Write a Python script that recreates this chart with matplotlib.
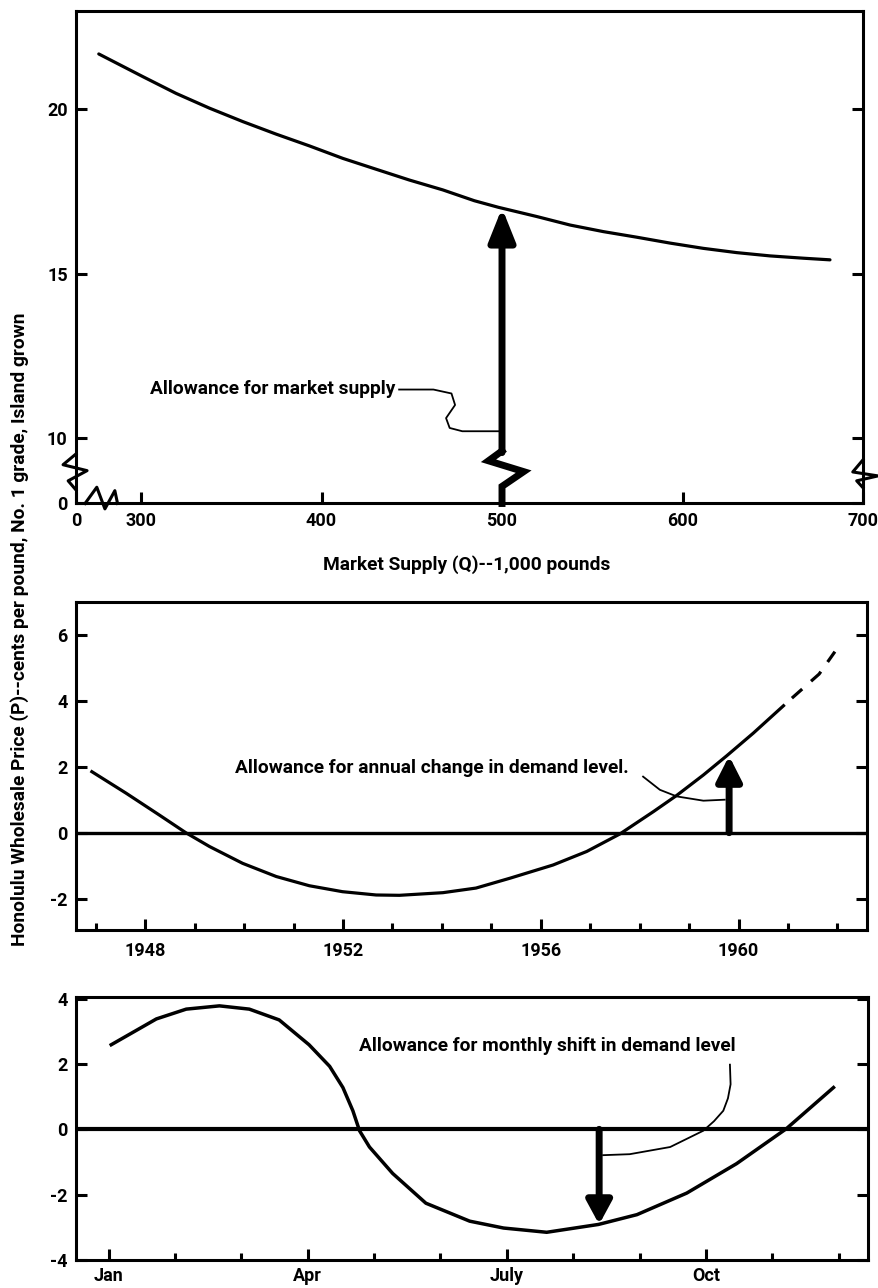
import numpy as np
import matplotlib.pyplot as plt
import matplotlib.transforms as mtransforms

plt.rcParams['font.family'] = ['Roboto', 'DejaVu Sans']
plt.rcParams['font.weight'] = 'bold'

# panel 1: price vs market supply
supply_q = [276.6, 301.0, 319.4, 337.9, 356.4, 374.8, 393.3, 411.8, 430.2, 448.7, 467.2, 484.7,
            498.0, 519.2, 537.7, 556.1, 574.6, 593.1, 611.5, 630.0, 648.5, 666.9, 681.7]
supply_p = [21.69, 21.00, 20.49, 20.04, 19.63, 19.25, 18.89, 18.51, 18.18, 17.85, 17.55, 17.22,
            17.02, 16.74, 16.48, 16.28, 16.11, 15.93, 15.77, 15.64, 15.54, 15.47, 15.42]
supply_xticks = [264, 300, 400, 500, 600, 700]
supply_xlabels = ['0', '300', '400', '500', '600', '700']
supply_yticks = [8, 10, 15, 20]
supply_ylabels = ['0', '10', '15', '20']

# panel 2: annual shift
annual_years = [1946.92, 1947.61, 1948.28, 1948.82, 1949.30, 1949.97, 1950.65, 1951.32, 1951.99,
                1952.67, 1953.14, 1954.02, 1954.69, 1955.38, 1956.25, 1956.93, 1957.60, 1958.28,
                1958.75, 1959.29, 1959.76, 1960.30, 1960.91]
annual_shift = [1.85, 1.20, 0.54, 0.0, -0.42, -0.93, -1.33, -1.61, -1.79,
                -1.89, -1.90, -1.82, -1.68, -1.38, -0.98, -0.57, -0.04, 0.64,
                1.13, 1.75, 2.33, 3.02, 3.85]
proj_years = [1961.08, 1961.63, 1961.95]
proj_shift = [4.08, 4.81, 5.49]
year_labels = [1948, 1952, 1956, 1960]
year_minor = list(range(1947, 1963))

# panel 3: monthly shift (0 = Jan)
months = [0.04, 0.72, 1.17, 1.67, 2.12, 2.57, 3.02, 3.33, 3.53, 3.68, 3.78, 3.93, 4.28, 4.78,
          5.44, 5.95, 6.60, 7.38, 7.96, 8.71, 9.46, 10.21, 10.92]
monthly_shift = [2.59, 3.38, 3.68, 3.78, 3.68, 3.35, 2.59, 1.93, 1.28, 0.57, -0.04, -0.54, -1.35, -2.26,
                 -2.81, -3.02, -3.15, -2.91, -2.61, -1.95, -1.05, 0.02, 1.28]
month_major = [0, 3, 6, 9]
month_names = ['Jan', 'Apr', 'July', 'Oct']

FS = 13.8   # annotation / axis label size
TFS = 13    # tick label size


def style(ax):
    for s in ax.spines.values():
        s.set_linewidth(2.2)
    ax.tick_params(direction='in', length=8, width=2.2, labelsize=TFS,
                   right=True, labelright=False, pad=6)
    ax.tick_params(which='minor', direction='in', length=5, width=2.2, right=False)


def up_arrow(ax, x, y0, y1, lw, hl, hw):
    ax.annotate('', xy=(x, y1), xytext=(x, y0),
                arrowprops=dict(arrowstyle=f'-|>,head_length={hl},head_width={hw}', lw=lw,
                                color='black', mutation_scale=20, shrinkA=0, shrinkB=0))


fig = plt.figure(figsize=(8.79, 12.88), dpi=100)

# ---------------- panel 1 ----------------
ax1 = fig.add_axes([0.0865, 0.6091, 0.8953, 0.3824])
ax1.plot(supply_q, supply_p, color='black', lw=2.3, solid_joinstyle='round', solid_capstyle='round')
ax1.set_xlim(264, 700)
ax1.set_ylim(8, 23)
ax1.set_xticks(supply_xticks, supply_xlabels)
ax1.set_yticks(supply_yticks, supply_ylabels)
style(ax1)

# break marks on the axes
tl = mtransforms.blended_transform_factory(ax1.transAxes, ax1.transData)
ax1.plot([0, -0.0165, 0.014, -0.01, 0], [9.51, 9.18, 9.0, 8.69, 8.41],
         color='black', lw=2.2, transform=tl, clip_on=False)
ax1.plot([1, 0.987, 1.019, 0.992, 1], [9.33, 8.96, 8.84, 8.69, 8.48],
         color='black', lw=2.2, transform=tl, clip_on=False)
tb = mtransforms.blended_transform_factory(ax1.transData, ax1.transAxes)
ax1.plot([269, 275.5, 280, 285.5, 287], [0.0, 0.033, -0.011, 0.026, 0.0],
         color='black', lw=2.2, transform=tb, clip_on=False)

# supply arrow with break
ax1.plot([500, 500, 512, 492.5, 500], [8, 8.52, 8.97, 9.3, 9.6], color='black', lw=5,
         solid_joinstyle='miter', clip_on=False)
up_arrow(ax1, 500, 9.55, 17.0, 5, 1.0, 0.4)
ax1.text(305, 11.5, 'Allowance for market supply', fontsize=FS, va='center', ha='left')
ax1.plot([443, 462, 472, 474, 469, 471, 478, 498],
         [11.47, 11.47, 11.35, 11.0, 10.6, 10.3, 10.2, 10.2], color='black', lw=1.3)

fig.text(0.531, 0.5613, 'Market Supply (Q)--1,000 pounds', ha='center', va='center', fontsize=FS)

# ---------------- panel 2 ----------------
ax2 = fig.add_axes([0.0865, 0.2780, 0.8999, 0.2547])
ax2.axhline(0, color='black', lw=2.4)
ax2.plot(annual_years, annual_shift, color='black', lw=2.3, solid_joinstyle='round')
ax2.plot(proj_years, proj_shift, color='black', lw=2.3, ls=(0, (4.3, 3.7)))
ax2.set_xlim(1946.6, 1962.6)
ax2.set_ylim(-2.95, 7.0)
ax2.set_xticks(year_labels, [str(y) for y in year_labels])
ax2.set_xticks(year_minor, minor=True)
ax2.set_yticks([-2, 0, 2, 4, 6], ['-2', '0', '2', '4', '6'])
style(ax2)
ax2.tick_params(axis='x', pad=9)
up_arrow(ax2, 1959.81, 0, 2.33, 5, 0.75, 0.38)
ax2.text(1949.82, 1.97, 'Allowance for annual change in demand level.', fontsize=FS,
         va='center', ha='left')
ax2.plot([1958.07, 1958.41, 1958.75, 1959.29, 1959.72], [1.70, 1.30, 1.10, 0.97, 1.0],
         color='black', lw=1.3)

# ---------------- panel 3 ----------------
ax3 = fig.add_axes([0.0865, 0.0217, 0.9010, 0.2042])
ax3.axhline(0, color='black', lw=3.0)
ax3.plot(months, monthly_shift, color='black', lw=2.5, solid_joinstyle='round')
ax3.set_xlim(-0.49, 11.44)
ax3.set_ylim(-3.95, 4.05)
ax3.set_xticks(month_major, month_names)
ax3.set_xticks(range(12), minor=True)
ax3.set_yticks([-4, -2, 0, 2, 4], ['-4', '-2', '0', '2', '4'])
style(ax3)
ax3.tick_params(axis='x', pad=5)
up_arrow(ax3, 7.39, 0, -2.91, 5, 0.7, 0.38)
ax3.text(3.78, 2.54, 'Allowance for monthly shift in demand level', fontsize=FS,
         va='center', ha='left')
ax3.plot([9.36, 9.37, 9.33, 9.26, 9.12, 8.96, 8.46, 7.85, 7.45],
         [1.98, 1.38, 0.95, 0.57, 0.25, -0.04, -0.54, -0.76, -0.79], color='black', lw=1.3)

fig.text(0.0228, 0.5117,
         'Honolulu Wholesale Price (P)--cents per pound, No. 1 grade, Island grown',
         rotation=90, ha='center', va='center', fontsize=FS)

fig.savefig('out.png', dpi=100)
